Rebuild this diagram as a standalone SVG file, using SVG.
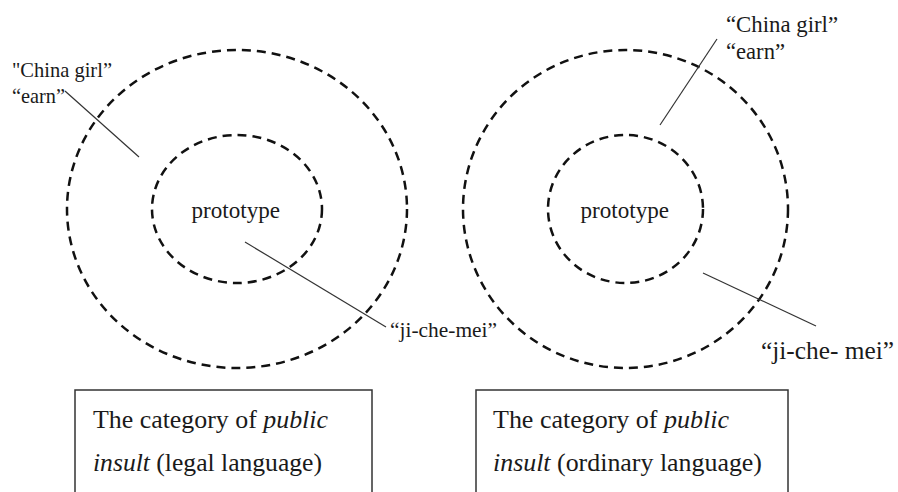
<svg xmlns="http://www.w3.org/2000/svg" width="898" height="492" viewBox="0 0 898 492">
<style>
.ring{fill:none;stroke:#111;stroke-width:2.5;stroke-dasharray:9 6}
.lead{stroke:#333;stroke-width:1.2;fill:none}
.box{fill:#fff;stroke:#333;stroke-width:1.5}
text{fill:#1a1a1a;font-family:"Liberation Serif","DejaVu Serif",serif}
.l1{font-size:21.5px}
.l2{font-size:23.5px}
.proto{font-size:23.5px}
.bt{font-size:26px}
.it{font-style:italic}
</style>
<rect width="898" height="492" fill="#fff"/>
<g id="left-diagram">
<g id="left-outer"><ellipse class="ring" cx="237" cy="209" rx="170" ry="159"/></g>
<g id="left-inner"><ellipse class="ring" cx="237" cy="209" rx="85" ry="74"/><text class="proto" x="191.5" y="218" textLength="88.5" lengthAdjust="spacingAndGlyphs">prototype</text></g>
<g id="left-label-top"><text class="l1" x="12" y="77" textLength="100" lengthAdjust="spacingAndGlyphs">"China girl”</text><text class="l1" x="12" y="103" textLength="53" lengthAdjust="spacingAndGlyphs">“earn”</text></g>
<g id="left-label-bottom"><text class="l1" x="390" y="337" textLength="107" lengthAdjust="spacingAndGlyphs">“ji-che-mei”</text></g>
<g id="left-box"><rect class="box" x="75" y="390" width="297" height="110"/><text class="bt" x="93" y="428" textLength="235" lengthAdjust="spacingAndGlyphs">The category of <tspan class="it">public</tspan></text><text class="bt" x="93" y="471" textLength="229" lengthAdjust="spacingAndGlyphs"><tspan class="it">insult</tspan> (legal language)</text></g>
</g>
<g id="right-diagram">
<g id="right-outer"><ellipse class="ring" cx="625.5" cy="209" rx="162.5" ry="159"/></g>
<g id="right-inner"><ellipse class="ring" cx="625.5" cy="209" rx="77.5" ry="74"/><text class="proto" x="580.5" y="218" textLength="88.5" lengthAdjust="spacingAndGlyphs">prototype</text></g>
<g id="right-label-top"><text class="l2" x="726" y="32" textLength="112" lengthAdjust="spacingAndGlyphs">“China girl”</text><text class="l2" x="726" y="59" textLength="59" lengthAdjust="spacingAndGlyphs">“earn”</text></g>
<g id="right-label-bottom"><text style="font-size:26px" x="761" y="359" textLength="133" lengthAdjust="spacingAndGlyphs">“ji-che- mei”</text></g>
<g id="right-box"><rect class="box" x="476" y="390" width="312" height="110"/><text class="bt" x="493" y="428" textLength="236" lengthAdjust="spacingAndGlyphs">The category of <tspan class="it">public</tspan></text><text class="bt" x="493" y="471" textLength="269" lengthAdjust="spacingAndGlyphs"><tspan class="it">insult</tspan> (ordinary language)</text></g>
</g>
<g id="connectors">
<line class="lead" x1="65" y1="91" x2="139" y2="157"/>
<line class="lead" x1="245" y1="242" x2="386" y2="327"/>
<line class="lead" x1="717" y1="39" x2="660" y2="125"/>
<line class="lead" x1="703" y1="273" x2="816" y2="326"/>
</g>
</svg>
